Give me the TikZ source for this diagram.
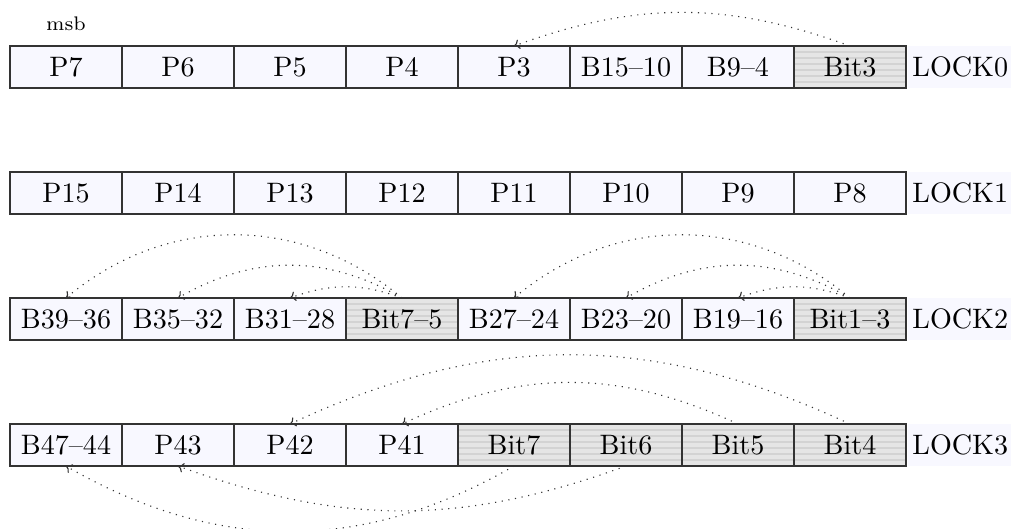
\documentclass[tikz,border=0pt]{standalone}
\usepackage{tikz}
\usepackage{xcolor}
\usetikzlibrary{arrows.meta,positioning}
\definecolor{SoftLilac}{RGB}{248,248,255}
\definecolor{BandDark}{RGB}{211,211,211}
\definecolor{BandLight}{RGB}{229,229,229}

\begin{document}
\begin{tikzpicture}[node distance=0pt,
  cell/.style={draw=black!80, fill=SoftLilac, minimum width=1.4cm, minimum height=0.525cm, inner sep=1pt, outer sep=0pt},
  lockbits/.style={cell, fill=BandDark, path picture={
    \foreach \k in {1,...,7}
      \draw[BandLight, line width=1.3pt] ([yshift=\k*0.075cm-0.0375cm]path picture bounding box.south west) -- ([yshift=\k*0.075cm-0.0375cm]path picture bounding box.south east);}},
  reg/.style={fill=SoftLilac, minimum height=0.525cm, inner sep=1.5pt, outer sep=0pt},
  link/.style={-{To[length=2pt,width=3.5pt]}, dotted, black!80}]
\useasboundingbox (0,0) rectangle (12.6375,-6.6);

% LOCK0
\node[cell] (p7) at (0.825,-0.8375) {P7};
\node[cell, right=of p7] (p6) {P6};
\node[cell, right=of p6] (p5) {P5};
\node[cell, right=of p5] (p4) {P4};
\node[cell, right=of p4] (p3) {P3};
\node[cell, right=of p3] (b15) {B15--10};
\node[cell, right=of b15] (b9) {B9--4};
\node[lockbits, right=of b9] (bit3) {Bit3};
\node[reg, right=0.8pt of bit3] (lock0) {LOCK0};
\node[font=\scriptsize, above=2pt of p7] (msb) {msb};

% LOCK1
\node[cell, below=1.05cm of p7] (p15) {P15};
\node[cell, right=of p15] (p14) {P14};
\node[cell, right=of p14] (p13) {P13};
\node[cell, right=of p13] (p12) {P12};
\node[cell, right=of p12] (p11) {P11};
\node[cell, right=of p11] (p10) {P10};
\node[cell, right=of p10] (p9) {P9};
\node[cell, right=of p9] (p8) {P8};
\node[reg, right=0.8pt of p8] (lock1) {LOCK1};

% LOCK2
\node[cell, below=1.05cm of p15] (b39) {B39--36};
\node[cell, right=of b39] (b35) {B35--32};
\node[cell, right=of b35] (b31) {B31--28};
\node[lockbits, right=of b31] (bit75) {Bit7--5};
\node[cell, right=of bit75] (b27) {B27--24};
\node[cell, right=of b27] (b23) {B23--20};
\node[cell, right=of b23] (b19) {B19--16};
\node[lockbits, right=of b19] (bit13) {Bit1--3};
\node[reg, right=0.8pt of bit13] (lock2) {LOCK2};

% LOCK3
\node[cell, below=1.05cm of b39] (b47) {B47--44};
\node[cell, right=of b47] (p43) {P43};
\node[cell, right=of p43] (p42) {P42};
\node[cell, right=of p42] (p41) {P41};
\node[lockbits, right=of p41] (bit7) {Bit7};
\node[lockbits, right=of bit7] (bit6) {Bit6};
\node[lockbits, right=of bit6] (bit5) {Bit5};
\node[lockbits, right=of bit5] (bit4) {Bit4};
\node[reg, right=0.8pt of bit4] (lock3) {LOCK3};

% lock bits and what they cover
\draw[link] (bit3.north) to[bend right=20] (p3.north);

\draw[link] (bit75.north) to[bend right=20] (b31.north);
\draw[link] (bit75.north) to[bend right=30] (b35.north);
\draw[link] (bit75.north) to[bend right=40] (b39.north);
\draw[link] (bit13.north) to[bend right=20] (b19.north);
\draw[link] (bit13.north) to[bend right=30] (b23.north);
\draw[link] (bit13.north) to[bend right=40] (b27.north);

\draw[link] (bit4.north) to[bend right=25] (p42.north);
\draw[link] (bit5.north) to[bend right=25] (p41.north);
\draw[link] (bit6.south) to[bend left=20] (p43.south);
\draw[link] (bit7.south) to[bend left=30] (b47.south);
\end{tikzpicture}
\end{document}
